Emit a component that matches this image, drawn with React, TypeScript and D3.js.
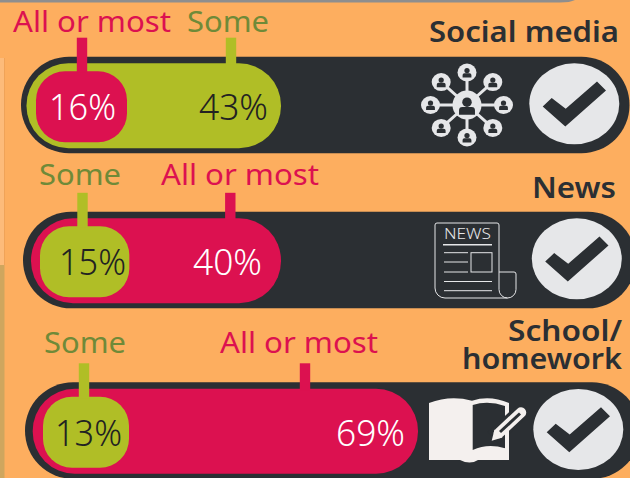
import React from "react";
import * as d3 from "d3";

const categories = ["Social media", "News", "School/homework"];
const titleLines = [["Social media"], ["News"], ["School/", "homework"]];
const allOrMost = [16, 40, 69];
const some = [43, 15, 13];
const labelAll = "All or most";
const labelSome = "Some";

const BG = "#FDAE5F";
const DARK = "#2B2F33";
const GREEN = "#B0BE26";
const RED = "#DC1150";
const LIGHT = "#E6E7E9";
const SOME_TEXT = "#6F8A38";
const FONT = "'Noto Sans', sans-serif";

// The graphic's bar lengths are not linear in the value: the scale is fitted to the picture.
const barWidth = d3.scaleLinear().domain([13, 16, 40, 43, 69]).range([86, 91, 250, 254.5, 385.3]);

const rowX = d3.scaleOrdinal<string, number>().domain(categories).range([21, 23, 25]);
const rowY = d3.scaleOrdinal<string, number>().domain(categories).range([56.7, 211.8, 382.3]);

function Person({ x, y, s, c }: { x: number; y: number; s: number; c: string }) {
  return (
    <g>
      <circle cx={x} cy={y - 2.3 * s} r={2.5 * s} fill={c} />
      <path
        d={`M${x - 4.2 * s},${y + 4.4 * s}V${y + 2 * s}a${1.8 * s},${1.8 * s} 0 0 1 ${1.8 * s},${-1.8 * s}h${4.8 * s}a${1.8 * s},${1.8 * s} 0 0 1 ${1.8 * s},${1.8 * s}V${y + 4.4 * s}z`}
        fill={c}
      />
    </g>
  );
}

function Network({ cx, cy }: { cx: number; cy: number }) {
  const angles = d3.range(8).map((i) => (i * Math.PI) / 4);
  const px = (a: number) => cx + 36.5 * Math.cos(a);
  const py = (a: number) => cy + 32.5 * Math.sin(a);
  return (
    <g>
      {angles.map((a, i) => (
        <line key={i} x1={cx} y1={cy} x2={px(a)} y2={py(a)} stroke={LIGHT} strokeWidth={3} />
      ))}
      <circle cx={cx} cy={cy} r={14.5} fill={LIGHT} />
      <Person x={cx} y={cy + 1.5} s={1.9} c={DARK} />
      {angles.map((a, i) => (
        <g key={i}>
          <ellipse cx={px(a)} cy={py(a)} rx={9.5} ry={9} fill={LIGHT} />
          <Person x={px(a)} y={py(a) + 0.5} s={1.05} c={DARK} />
        </g>
      ))}
    </g>
  );
}

function Newspaper({ x, y }: { x: number; y: number }) {
  const s = { stroke: LIGHT, fill: "none", strokeWidth: 1 };
  return (
    <g transform={`translate(${x},${y})`}>
      <path d="M72.5,75H10a10,10 0 0 1 -10,-10V2a2,2 0 0 1 2,-2H62a2,2 0 0 1 2,2V66.5a8.5,8.5 0 0 0 8.5,8.5a8.5,8.5 0 0 0 8.5,-8.5V51a2,2 0 0 0 -2,-2H64" {...s} />
      <text x={9} y={16} fontFamily={FONT} fontSize={14} textLength={47} lengthAdjust="spacingAndGlyphs" fill={LIGHT} fontWeight={300}>NEWS</text>
      <line x1={8} x2={57} y1={21.7} y2={21.7} {...s} strokeWidth={1.4} />
      <line x1={9} x2={33} y1={29.7} y2={29.7} {...s} />
      <line x1={9} x2={33} y1={39} y2={39} {...s} />
      <line x1={9} x2={33} y1={49} y2={49} {...s} />
      <line x1={9} x2={57} y1={58.5} y2={58.5} {...s} />
      <line x1={9} x2={57} y1={67.7} y2={67.7} {...s} />
      <rect x={36} y={29.7} width={21} height={19.3} {...s} />
    </g>
  );
}

function Book({ x, y }: { x: number; y: number }) {
  const c = "#F4F0EE";
  return (
    <g transform={`translate(${x},${y})`}>
      <path d="M0,7 Q21,-1 43,4.7 Q61,-1 80,7 V64 H49 Q41,69 31,64 H0Z" fill={c} />
      <path d="M43.7,9 Q59,4 76,10 V52.3 Q59,47 43.7,54Z" fill={DARK} />
      <path d="M64,42 L94,14" stroke={DARK} strokeWidth={16} />
      <path d="M70,37 L92,16.5" stroke={c} strokeWidth={10.5} strokeLinecap="round" />
      <path d="M71,36 L91,17.5" stroke={DARK} strokeWidth={3} />
      <path d="M62.7,44.7 L65.5,33.5 L73.5,41.5Z" fill={c} />
      <path d="M76,34 H80 V64 H68 V52.5 L76,52.5Z" fill={c} />
    </g>
  );
}

function Check({ cx, cy }: { cx: number; cy: number }) {
  const pts = [[-31.6, 2.7], [-22.6, -5.7], [-8.6, 5], [22.7, -22.3], [31.7, -13.3], [-9, 22.7]];
  return (
    <g>
      <ellipse cx={cx} cy={cy} rx={45} ry={40.5} fill={LIGHT} />
      <polygon points={pts.map(([a, b]) => `${cx + a},${cy + b}`).join(" ")} fill={DARK} />
    </g>
  );
}

const titleGeom = [
  { right: 619, ys: [41.5], width: [190] },
  { right: 616, ys: [197.5], width: [84] },
  { right: 622, ys: [341, 369], width: [114, 160] },
];
const checks = [
  { cx: 574.3, cy: 103.8 },
  { cx: 576.8, cy: 258.8 },
  { cx: 578.3, cy: 429.5 },
];
const labelGeom = [
  { allX: 13, someX: 187, y: 31.5, allTick: 82, someTick: 231 },
  { allX: 161, someX: 39, y: 185, allTick: 230.3, someTick: 82.5 },
  { allX: 220, someX: 44, y: 353, allTick: 305, someTick: 84 },
];
const barGeom = [
  { outer: 26.5, inner: 36, endX: 629.5, innerText: 116, outerText: 268 },
  { outer: 31, inner: 40, endX: 636, innerText: 126, outerText: 262 },
  { outer: 32.7, inner: 43, endX: 640, innerText: 122, outerText: 405 },
];

export default function App() {
  return (
    <svg width={630} height={478} viewBox="0 0 630 478" style={{ position: "absolute", left: 0, top: 0, display: "block" }}>
      <rect width={630} height={478} fill={BG} />
      <rect x={0} y={58} width={4.5} height={207} fill="#FDBB7A" />
      <rect x={4} y={58} width={1} height={207} fill="#F0A358" />
      <rect x={0} y={265} width={4.5} height={213} fill="#CFA65E" />
      <path d="M0,0H575Q570,2.5 560,2.5H0Z" fill="#8E8E8E" />
      {categories.map((c, i) => {
        const x0 = rowX(c);
        const y0 = rowY(c);
        const allOuter = allOrMost[i] > some[i];
        const outerV = allOuter ? allOrMost[i] : some[i];
        const innerV = allOuter ? some[i] : allOrMost[i];
        const outerColor = allOuter ? RED : GREEN;
        const innerColor = allOuter ? GREEN : RED;
        const g = labelGeom[i];
        const tg = titleGeom[i];
        const b = barGeom[i];
        const outerW = barWidth(outerV);
        const innerW = barWidth(innerV);
        const outerTick = allOuter ? g.allTick : g.someTick;
        const innerTick = allOuter ? g.someTick : g.allTick;
        return (
          <g key={c}>
            <rect x={x0} y={y0} width={b.endX - x0} height={96.5} rx={48} fill={DARK} />
            {tg.ys.map((y, k) => (
              <text key={k} x={tg.right} y={y} textAnchor="end" fontFamily={FONT} fontWeight={600} fontSize={28} fill={DARK} textLength={tg.width[k]} lengthAdjust="spacingAndGlyphs">
                {titleLines[i][k]}
              </text>
            ))}
            <rect x={b.outer} y={y0 + 6.5} width={outerW} height={85} rx={42} fill={outerColor} />
            <rect x={outerTick - 5.2} y={y0 - 19} width={10.4} height={27} fill={outerColor} />
            <rect x={b.inner} y={y0 + 14.5} width={innerW} height={71} rx={29} fill={innerColor} />
            <rect x={innerTick - 5.2} y={y0 - 19} width={10.4} height={35} fill={innerColor} />
            <text x={g.allX} y={g.y} fontFamily={FONT} fontSize={29} fill={RED} textLength={158} lengthAdjust="spacingAndGlyphs">{labelAll}</text>
            <text x={g.someX} y={g.y} fontFamily={FONT} fontSize={29} fill={SOME_TEXT} textLength={82} lengthAdjust="spacingAndGlyphs">{labelSome}</text>
            <text x={b.innerText} y={y0 + 63.5} textAnchor="end" fontFamily={FONT} fontSize={36} fontWeight={300} fill={allOuter ? "#222" : "#fff"} textLength={67} lengthAdjust="spacingAndGlyphs">{innerV}%</text>
            <text x={b.outerText} y={y0 + 63.5} textAnchor="end" fontFamily={FONT} fontSize={36} fontWeight={300} fill={allOuter ? "#fff" : "#222"} textLength={69} lengthAdjust="spacingAndGlyphs">{outerV}%</text>
            <Check cx={checks[i].cx} cy={checks[i].cy} />
          </g>
        );
      })}
      <Network cx={467} cy={105} />
      <Newspaper x={435} y={223} />
      <Book x={429} y={396} />
    </svg>
  );
}
